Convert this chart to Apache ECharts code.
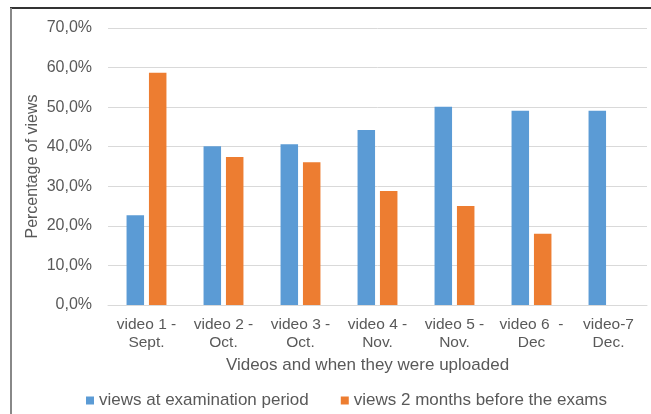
<!DOCTYPE html>
<html>
<head>
<meta charset="utf-8">
<script src="https://cdn.jsdelivr.net/npm/echarts@6/dist/echarts.min.js"></script>
<style>
  html, body { margin: 0; padding: 0; background: #fff; }
  #chart { width: 651px; height: 414px; }
</style>
</head>
<body>
<div id="chart"></div>
<script>
// categories (video + upload month)
var categories = ['video 1 -\nSept.', 'video 2 -\nOct.', 'video 3 -\nOct.', 'video 4 -\nNov.',
                  'video 5 -\nNov.', 'video 6  -\nDec', 'video-7\nDec.'];
// percentage of views
var examPeriod = [22.7, 40.1, 40.6, 44.2, 50.1, 49.1, 49.1];
var twoMonthsBefore = [58.7, 37.4, 36.1, 28.8, 25.0, 18.0, null];
var seriesNames = ['views at examination period', 'views 2 months before the exams'];

var textColor = '#595959';
var font = 'Arial, "Liberation Sans", sans-serif';

var chart = echarts.init(document.getElementById('chart'));
var option = {
  animation: false,
  color: ['#5b9bd5', '#ed7d31'],
  textStyle: { fontFamily: font, color: textColor },
  grid: { left: 108, right: 4, top: 28, bottom: 109, containLabel: false },
  graphic: [
    { type: 'line', shape: { x1: 10, y1: 8, x2: 651, y2: 8 }, style: { stroke: '#333', lineWidth: 2 } },
    { type: 'line', shape: { x1: 11, y1: 8, x2: 11, y2: 414 }, style: { stroke: '#888', lineWidth: 2 } }
  ],
  legend: {
    left: 81,
    top: 387,
    itemWidth: 8,
    itemHeight: 8,
    itemGap: 32,
    icon: 'rect',
    textStyle: { fontSize: 17, color: textColor, fontFamily: font },
    data: seriesNames
  },
  xAxis: {
    type: 'category',
    data: categories,
    name: 'Videos and when they were uploaded',
    nameLocation: 'middle',
    nameGap: 52,
    nameMoveOverlap: false,
    nameTextStyle: { fontSize: 17, color: textColor, fontFamily: font, padding: [0, 20, 0, 0] },
    axisLine: { lineStyle: { color: '#d9d9d9', width: 1 } },
    axisTick: { show: false },
    axisLabel: { fontSize: 15.5, color: textColor, margin: 11, lineHeight: 18, interval: 0 }
  },
  yAxis: {
    type: 'value',
    min: 0,
    max: 70,
    interval: 10,
    name: 'Percentage of views',
    nameLocation: 'middle',
    nameGap: 67,
    nameMoveOverlap: false,
    nameTextStyle: { fontSize: 16, color: textColor, fontFamily: font },
    axisLine: { show: false },
    axisTick: { show: false },
    splitLine: { lineStyle: { color: '#d9d9d9', width: 1 } },
    axisLabel: {
      fontSize: 16,
      color: textColor,
      margin: 16,
      formatter: function (v) { return v.toFixed(1).replace('.', ',') + '%'; }
    }
  },
  series: [
    { name: seriesNames[0], type: 'bar', data: examPeriod, barWidth: 17.5, barGap: '28%' },
    { name: seriesNames[1], type: 'bar', data: twoMonthsBefore, barWidth: 17.5, barGap: '28%' }
  ]
};
chart.setOption(option);
</script>
</body>
</html>
